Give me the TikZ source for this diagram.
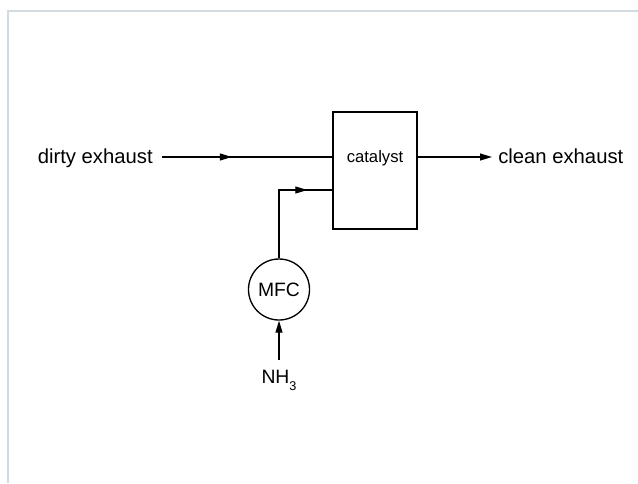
\documentclass[tikz,border=0pt]{standalone}
\usepackage{fontspec}
\setmainfont{Liberation Sans}
\usetikzlibrary{arrows.meta,decorations.markings}
\definecolor{framegray}{HTML}{D3DBE2}
\tikzset{
  flow/.style={line width=1pt},
  tip/.style={-{Triangle[length=9pt,width=5.2pt]}},
  label/.style={inner sep=0pt, font=\fontsize{15.2}{18}\selectfont},
  box/.style={draw, line width=1pt, minimum width=63pt, minimum height=87.75pt, inner sep=0pt},
  ctrl/.style={draw, circle, line width=1pt, minimum size=45.75pt, inner sep=0pt, font=\fontsize{14.5}{16}\selectfont},
  midtip/.style={postaction={decorate}, decoration={markings, mark=at position #1 with {\arrow{Triangle[length=9pt,width=5.2pt]}}}}
}
\begin{document}
\begin{tikzpicture}[x=0.75pt,y=-0.75pt]
\useasboundingbox (0,0) rectangle (638,483);
\draw[framegray, line width=0.8pt] (8,483) -- (8,11) -- (638,11);
\node[box] (cat) at (375,170.5) {};
\node[inner sep=0pt, anchor=base, font=\fontsize{12.5}{14}\selectfont] (catt) at (375,162) {catalyst};
\node[label, anchor=base east] (dirty) at (153,163) {dirty exhaust};
\node[label, anchor=base west] (clean) at (498,163) {clean exhaust};
\node[ctrl] (mfc) at (279,289.5) {MFC};
\node[inner sep=0pt, anchor=base, font=\fontsize{14.5}{16}\selectfont] (nh) at (279,383) {NH\raisebox{-0.38em}{\fontsize{9.5}{10}\selectfont 3}};
\coordinate (dstart) at (162,157);
\coordinate (cin1) at (cat.west |- dstart);
\coordinate (cin2) at (333,190);
\coordinate (bend) at (mfc.north |- cin2);
\coordinate (cout) at (cat.east |- dstart);
\coordinate (cend) at (492,157);
\coordinate (nstart) at (279,360);
\draw[flow, midtip=0.41] (dstart) -- (cin1);
\draw[flow, midtip=0.79] (mfc.north) -- (bend) -- (cin2);
\draw[flow, tip] (cout) -- (cend);
\draw[flow, tip] (nstart) -- (mfc.south);
\end{tikzpicture}
\end{document}
